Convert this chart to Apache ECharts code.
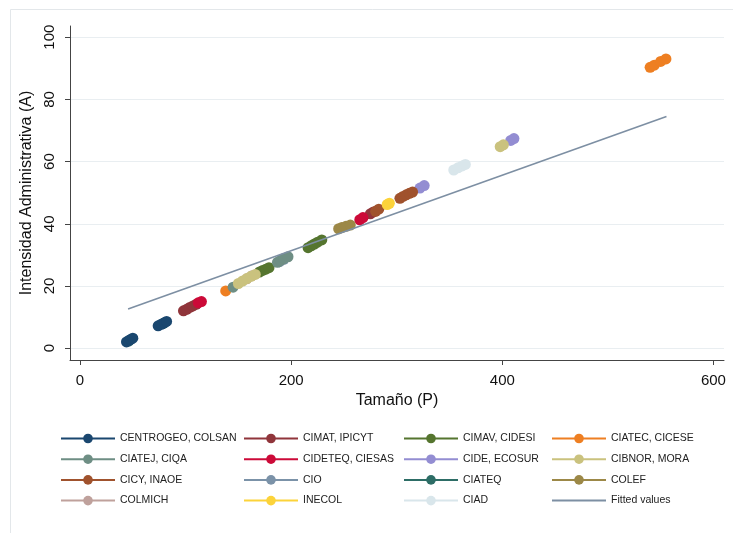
<!DOCTYPE html>
<html><head><meta charset="utf-8">
<script src="https://cdn.jsdelivr.net/npm/echarts@6/dist/echarts.min.js"></script>
<style>html,body{margin:0;padding:0;background:#fff}#c{width:733px;height:533px}</style>
</head><body><div id="c"></div>
<script>
// ---- data ----
const seriesNames = [
  'CENTROGEO, COLSAN','CIMAT, IPICYT','CIMAV, CIDESI','CIATEC, CICESE',
  'CIATEJ, CIQA','CIDETEQ, CIESAS','CIDE, ECOSUR','CIBNOR, MORA',
  'CICY, INAOE','CIO','CIATEQ','COLEF',
  'COLMICH','INECOL','CIAD','Fitted values'
];
const centrogeoColsan = [[44,2],[46,2.4],[48,2.8],[50,3.2],[74,7.2],[77,7.7],[80,8.2],[82,8.6]];
const cimatIpicyt     = [[98,12],[101,12.5],[104,13.1],[107,13.6],[110,14.1],[275,43.2],[278,43.8]];
const cimavCidesi     = [[170,24.5],[173,25],[176,25.4],[179,25.9],[216,32.3],[219,32.9],[222,33.5],[225,34.1],[229,34.8]];
const ciatecCicese    = [[138,18.4],[540,90.3],[544,91],[550,92.2],[555,93]];
const ciatejCiqa      = [[145,19.6],[187,27.6],[190,28.2],[193,28.8],[197,29.4]];
const cideteqCiesas   = [[112,14.6],[115,15],[265,41.3],[268,42]];
const cideEcosur      = [[322,51.5],[326,52.3],[408,66.8],[411,67.4]];
const cibnorMora      = [[150,20.8],[154,21.6],[158,22.4],[162,23.1],[166,23.7],[398,64.8],[401,65.4]];
const cicyInaoe       = [[280,44],[283,44.7],[303,48.2],[306,48.8],[309,49.3],[312,49.8],[315,50.2]];
const cio             = [[189,27.8],[193,28.6]];
const ciateq          = [[46,2.3],[79,8]];
const colef           = [[245,38.4],[248,38.8],[252,39.2],[256,39.6]];
const colmich         = [[158,22.3],[163,23.3]];
const inecol          = [[291,46.2],[293,46.6]];
const ciad            = [[354,57.3],[358,58],[362,58.6],[365,59.1]];
const fittedValues    = [[45.5,12.6],[555.5,74.5]];
const xTicks = [0,200,400,600];
const yTicks = [0,20,40,60,80,100];

const seriesData = [centrogeoColsan,cimatIpicyt,cimavCidesi,ciatecCicese,ciatejCiqa,cideteqCiesas,
  cideEcosur,cibnorMora,cicyInaoe,cio,ciateq,colef,colmich,inecol,ciad,fittedValues];

// ---- styling ----
const colors = ['#1a476f','#90353b','#55752f','#ee7f22','#6e8e84','#cc0a38','#938dd2','#cac27e',
  '#a0522d','#7b92a8','#2d6d66','#9c8847','#bfa19c','#fcd33a','#d9e6eb','#7d8fa3'];
const hidden = {'CIO':1,'CIATEQ':1,'COLMICH':1};
const FONT = '"Liberation Sans", Arial, Helvetica, sans-serif';

const series = seriesNames.map((name, i) => {
  if (name === 'Fitted values') {
    return {name, type:'line', data: seriesData[i], symbol:'none', color: colors[i],
      lineStyle:{width:1.6, color: colors[i]}, z: 5, silent:true};
  }
  return {name, type:'line', data: seriesData[i], symbol:'circle', symbolSize:11, showSymbol:true,
    color: colors[i], itemStyle:{color: colors[i]}, lineStyle:{width:0, color: colors[i]},
    z: hidden[name] ? 1 : 2, silent:true};
});

const colLeft = [55, 238, 398, 546];
const legends = colLeft.map((left, c) => ({
  orient:'vertical', left, top:428, itemWidth:54, itemHeight:12, itemGap:9.7,
  selectedMode:false,
  data: [0,1,2,3].map(r => {
    const nm = seriesNames[r*4 + c];
    return nm === 'Fitted values' ? {name:nm, itemStyle:{opacity:0}} : {name:nm};
  }),
  lineStyle:{width:2, opacity:1},
  textStyle:{fontFamily:FONT, fontSize:10.5, color:'#222'}
}));

const chart = echarts.init(document.getElementById('c'), null, {renderer:'canvas'});
chart.setOption({
  animation:false,
  backgroundColor:'#fff',
  graphic:[{type:'rect', shape:{x:10.5, y:9.5, width:760, height:540},
    style:{fill:'none', stroke:'#e3e7ea', lineWidth:1}, z:-1}],
  grid:{left:70, right:9, top:26, bottom:173, containLabel:false},
  xAxis:{type:'value', min:-9.5, max:610,
    name:'Tamaño (P)', nameLocation:'middle', nameGap:33,
    nameTextStyle:{fontFamily:FONT, fontSize:16, color:'#111'},
    axisLine:{show:true, onZero:false, lineStyle:{color:'#444', width:1}},
    axisTick:{show:true, inside:false, length:5, customValues:xTicks, lineStyle:{color:'#444'}},
    axisLabel:{customValues:xTicks, margin:13, fontFamily:FONT, fontSize:15, color:'#111'},
    splitLine:{show:false}},
  yAxis:{type:'value', min:-3.8, max:103.6,
    name:'Intensidad Administrativa (A)', nameLocation:'middle', nameGap:28,
    nameTextStyle:{fontFamily:FONT, fontSize:16, color:'#111'},
    axisLine:{show:true, onZero:false, lineStyle:{color:'#444', width:1}},
    axisTick:{show:true, inside:false, length:5, customValues:yTicks, lineStyle:{color:'#444'}},
    axisLabel:{customValues:yTicks, rotate:90, margin:13, fontFamily:FONT, fontSize:15, color:'#111'},
    splitLine:{show:true, lineStyle:{color:'#e9eef1', width:1}}},
  legend: legends,
  series
});
</script></body></html>
